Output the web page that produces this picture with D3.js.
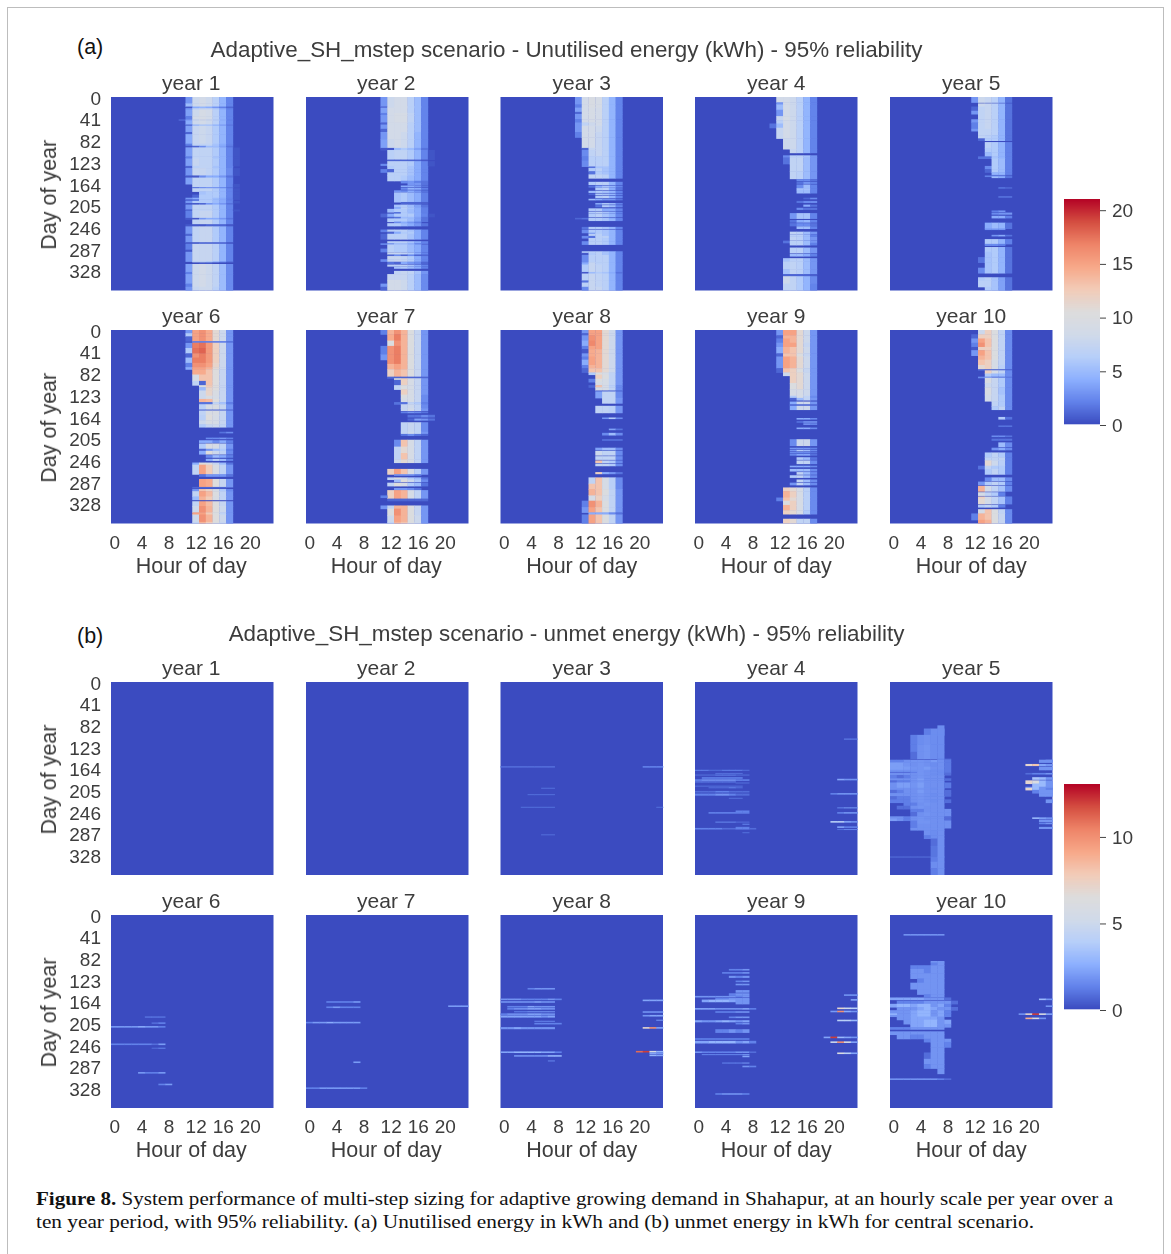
<!DOCTYPE html>
<html>
<head>
<meta charset="utf-8">
<script src="https://cdn.jsdelivr.net/npm/d3@7"></script>
<style>
html,body{margin:0;padding:0;background:#fff}
svg{display:block}
text{font-family:"Liberation Sans",Arial,sans-serif;fill:#3c3c3c}
.cap{font-family:"Liberation Serif",serif;fill:#111}
</style>
</head>
<body>
<svg id="chart" width="1171" height="1254"></svg>
<script>
// Each row: [firstDay, lastDay, firstHour, value at firstHour, value at next hour, ...] (kWh)
const years = ["year 1","year 2","year 3","year 4","year 5","year 6","year 7","year 8","year 9","year 10"];
const hourTicks = [0,4,8,12,16,20];
const dayTicks = [0,41,82,123,164,205,246,287,328];

const a_y1 = [
[0,12,11,3,8,8.5,8,6.5,4.5,2.2],[12,18,11,5,8,8.5,8,6.5,4.5,2.2],[18,21,11,0.5,4,4.5,4,3,2,1],[21,24,11,3,7,7.5,7.5,6,4,2],
[24,36,11,3.5,8,9,8.5,6.5,4.5,2.2],[36,42,11,2,8.5,9,8.5,6.5,4.5,2.2],[42,44,10,1,3,8,8.5,8,6.5,4.5,2.2],[44,52,11,4,8,8.5,8,6.5,4.5,2.2],
[52,54,11,0.5,4,5,5,4,3,1.5],[54,66,11,3.5,7.5,8,7.5,6,4.5,2.2],[66,70,11,1,7.5,8,7.5,6,4.5,2.2],[70,88,11,4,7.5,8,7.5,6,4.5,2.2],
[88,92,11,2,7,7,7,5.5,4,2],[92,95,11,0.5,1,2.5,5,5,3.5,1.5],[95,112,11,3.5,7,7,7,6,4.5,2.2,0.3],[112,116,11,2,7,7,7,5.5,4.5,2.2,0.3],
[116,130,11,3.5,7.5,7,7,6,4.5,2.2,0.3],[130,134,11,1,6.5,7,7,5.5,4.5,2.2],[134,148,11,3,7.5,7.5,7,6,4.5,2.5,0.3],[148,152,11,0.5,0.5,2.5,4,4,3,1.5],
[152,164,11,3.5,7,7,7,6,4.5,2.2],[164,170,12,7,7,7,6,4.5,2.2,0.3],[170,172,12,1.5,2.5,3,3,2.5,1.5],[172,178,12,7,7,7,6,4.5,2.2,0.3],
[178,184,13,5.5,6,6,4.5,2.2,0.3],[184,190,12,1,6,6,6,4.5,2.2,0.3],[190,193,11,3,4,6,6,5,4,2,0.3],[193,196,11,1,1.5,6,6,5,4,2],
[196,200,11,3,6,6,6,5,4,2.2,0.3],[200,203,11,0.5,0.5,1,3,4,3,1.5],[203,212,11,3,7,7,7,6,4.5,2.2],[212,215,11,1,7,7,7,6,4.5,2.2,0.3],
[215,228,11,2,7,7.5,7.5,6,4.5,2.2],[228,231,11,0.5,0.5,3,4,4,3,1.5],[231,240,12,7,7.5,7.5,6,4.5,2.2],[240,244,11,0.5,0.5,0.5,1,1,1,0.5],
[244,258,11,3,7,7.5,7.5,6,4.5,2.2],[258,262,11,1,7,7.5,7.5,6,4.5,2.2],[262,274,11,3,7,7.5,7.5,6,4.5,2.2],[274,277,11,0.5,0.5,1,1,1,1,0.5],
[277,288,11,2,7.5,7.5,7.5,6.5,4.5,2.2],[288,292,11,0.5,7.5,7.5,7.5,6.5,4.5,2.2],[292,310,11,3,7.5,7.5,7.5,6.5,4.5,2.2],[310,312,12,7,7,6,4.5,3,1.5],
[312,315,11,0,0,0.5,0.5,0,0,0],[315,330,11,3.5,8,8.5,8,7,5,2.5],[330,334,11,2,8,8.5,8,7,5,2.5],[334,352,11,3.5,8,8.5,8,7,5,2.5],[352,358,11,2,8,8.5,8,7,5,2.5],[358,365,11,3,7.5,8,8,6.5,5,2.5]];

const a_y2 = [
[0,18,11,3,8,8.5,8.5,6.5,5,2.2],[18,20,11,0.5,8,8.5,8.5,6.5,5,2.2],[20,30,11,3.5,8.5,8.5,8.5,6.5,5,2.2],[30,34,11,2,8.5,9,9,7,5,2.2],[34,48,11,3,8.5,9,9,7,5,2.2],
[48,52,11,1,8.5,8.5,8.5,6.5,5,2.2],[52,60,11,3,8.5,8.5,8.5,6.5,5,2.2],[60,66,11,1,8.5,8.5,8.5,6.5,5,2.2],[66,80,11,3,8.5,8.5,8,6.5,4.5,2.2],[80,96,11,3.5,8,8.5,8,6.5,4.5,2.2],
[96,100,11,0.5,0.5,5,6,5,3.5,1.5],[100,118,12,6.5,7,7,6,4.5,2.2,0.3],[118,121,12,1,1,1,1,1,0.5],[121,130,12,6.5,6.5,6.5,6,4,2.2,0.3],[126,129,11,2.5,6.5],[130,136,12,6,6.5,6.5,5.5,4,2.2],
[136,142,11,2,1,6.5,6.5,5.5,4,2.2],[142,148,12,6.5,6.5,6.5,5.5,4,2.2],[148,158,12,6.5,6.5,6,5,4,2.2],[158,162,14,2.5,3,2,1.5],[162,166,15,3,3,1.5],[167,169,14,4,4,3,1.5],
[171,174,14,2.5,4.5,4,2],[176,179,13,3,2.5,4,3,1.5],[180,198,13,5.5,6,5,4,2],[198,202,14,1,1,1,0.7],[203,208,13,5.5,6,5,3.5,1.5],[208,211,13,4,6.5,5.5,4,2],
[211,217,12,5,6,6,5,4,2],[217,220,13,1.5,6,5,4,2],[220,226,11,1,4,6,6,6,4,2.2,0.3],[226,229,12,1,1.5,5,5,3.5,1.5],[229,235,12,6,6,6,5,3.5,1.5],[235,238,13,2.5,4,3,2],
[238,243,12,6,6,5,4,3,1.5],[250,254,11,2,6.5,6.5,6.5,5.5,4,2.2],[254,258,12,1,4,6,6,4,2.2],[258,268,11,1,6.5,6.5,6.5,5.5,4,2.2],[272,276,12,6.5,6.5,6.5,5.5,4,2.2],[276,278,11,2.5,2.5,5,5,4,2],
[278,286,12,6.5,6,6,5,4,2.2],[286,292,11,2,6.5,6,6,5,4,2.2],[293,297,12,7.5,7.5,7,6,4,2.2],[297,299,12,1,2.5,1,2.5,1,1],[300,306,12,7.5,7.5,7,6,4,2.2],[306,310,11,2.5,7,7.5,7,6,4,2.2],
[311,314,12,1.5,1,4,3,2.5,1],[316,319,12,6.5,6.5,6.5,5.5,4,2.2],[320,323,13,5.5,6,5,4,2],[328,334,13,7,7.5,7,5.5,3],[334,345,12,7.5,7.5,7.5,6.5,5,2.5],[345,352,12,8.5,8.5,8,6.5,5,2.5],[352,358,11,3,8.5,8.5,8,6.5,5,2.5],[358,365,11,1,8.5,8.5,8,6.5,5,2.5]];

const a_y3 = [
[0,14,11,3,8.5,9.5,9,6.5,4.5,2.2],[14,20,11,2,8.5,9.5,9,6.5,4.5,2.2],[20,28,11,3.5,8.5,9,8.5,6.5,4.5,2.2],[28,32,11,1,8.5,9,8.5,6.5,4.5,2.2],[32,42,11,3,8.5,9,8.5,6.5,4.5,2.2],[42,48,11,2,8.5,9,8.5,6.5,4.5,2.2],
[48,54,11,3,7,8,8.5,6.5,4.5,2.2],[54,66,11,3,8.5,8.5,8,6.5,4.5,2.2],[66,76,11,2,8.5,8.5,7.5,6.5,4.5,2.2],[76,96,12,8.5,8.5,7.5,6.5,4.5,2.2],[96,100,12,1,7.5,7.5,6.5,4.5,2.2],[100,112,12,2.5,7,7.5,6.5,4.5,2.2],[112,120,12,2,6.5,6.5,6.5,4.5,2.2],
[120,131,12,2.5,6.5,6.5,6.5,4.5,2.2],[131,134,13,1.5,5.5,5.5,4.5,2.2],[134,140,13,6,6.5,5.5,4.5,2.2],[140,146,13,1.5,6,5.5,4.5,2.2],[146,153,13,7,7,6.5,4.5,2.2],[160,165,13,6,6.5,6.5,4.5,2.2],[167,170,13,1.5,4,5.5,4.5,2.2],
[171,175,14,6,6.5,4,1.5],[177,180,13,5,6,5.5,4.5,2.2],[182,184,13,1,6,5.5,4.5,2.2],[186,190,14,6,6.5,4.5,2.2],[192,194,13,5,4,3,3,1.5],[200,202,14,4,6,5,2.2],[204,207,14,1.5,6,5,2.2],[210,214,13,6,6,4,4,2.2],
[216,219,13,6,6.5,5.5,4.5,2.2],[220,226,13,6,6.5,5.5,4.5,2.2],[228,230,11,1,1.5,6,6,5.5,4,2.2],[230,233,13,6,6,5.5,4.5,2.2],[245,248,12,1.5,6,6,5.5,4.5,2.2],[250,256,12,2.5,6,6,5.5,4.5,2.2],[256,258,13,3,6,5.5,4.5,2.2],
[258,262,13,6.5,6.5,5.5,4.5,2.2],[262,266,12,2.5,1.5,6.5,6.5,4.5,2.2],[266,272,13,6.5,6.5,6,4.5,2.2],[272,278,12,2.5,6.5,6.5,6,4.5,2.2],[291,294,12,6,6.5,6.5,5.5,4.5,2.2],[294,298,12,0.5,6,6.5,5.5,4.5,2.2],[298,312,12,2.5,6.5,6.5,6.5,4.5,2.2],[312,316,12,4,7.5,6.5,6.5,4.5,2.2],
[316,330,12,6,7.5,7,6.5,4.5,2.2],[330,333,12,0.5,5,6,5.5,4,1.5],[333,346,12,6.5,7.5,7,6.5,4.5,2.2],[346,350,12,1.5,7.5,7,6.5,4.5,2.2],[350,358,12,6.5,7.5,7,6.5,4.5,2.2],[358,365,12,2.5,7.5,7.5,6.5,4.5,2.2]];

const a_y4 = [
[0,10,12,8.5,8.5,8,6.5,4.5,2.2],[10,14,12,3,8.5,8,6.5,4.5,2.2],[14,24,12,5,8.5,8,6.5,4.5,2.2],[24,36,12,3,8.5,8,6.5,4.5,2.2],[36,44,12,7.5,9,8,6.5,4.5,2.2],[44,50,12,6.5,8.5,8,6.5,4.5,2.2],[50,58,11,1.5,5,8.5,8,6.5,4.5,2.2],
[58,78,12,7.5,8.5,8,6.5,4.5,2.2],[78,98,13,8,8,6.5,4.5,2.2],[98,105,14,7.5,6.5,4.5,2.2],[110,114,13,2.5,6.5,6.5,5.5,3],[114,126,13,1.5,7,7,5,3],[126,140,14,7,7,5,3],[140,154,14,7,6.5,5,3],
[155,158,15,2.5,2.5,1.5],[160,163,15,1.5,3,2],[165,172,15,2.5,5,2.2],[172,175,15,5.5,5.5,2.2],[175,181,15,5,5,2.2],[190,192,16,1,2.5],[196,199,15,1.5,2.5,2.5],[203,206,16,4,1.5],[209,212,15,2.5,1.5,1.5],
[219,229,14,3,5.5,5.5,2.2],[232,236,14,1.5,4,4.5,2.2],[238,243,14,1.5,2.5,2.5,1.5],[244,248,15,5,5,2.2],[254,258,14,7,6.5,5,3],[259,263,14,6.5,6.5,5,2],[264,270,14,7,6.5,5,3],[271,275,13,1.5,6.5,6.5,5,3],[275,279,14,6.5,6.5,5,2],
[284,294,14,6.5,6.5,5,3],[296,300,14,5,5,4,2],[304,310,13,5.5,6.5,6.5,5,3],[310,325,13,6.5,7,6.5,5,3],[325,334,13,5.5,7,6.5,5,3],[334,338,13,1,1,1,1,0.7],[338,352,13,8,7,6,4.5,2.5],[352,365,13,7,7,6,4.5,2.2]];

const a_y5 = [
[0,10,12,3,8,7.5,6.5,4.5,1.5],[12,18,13,8,7.5,6.5,4.5,1.5],[18,26,12,1,7,7.5,6.5,4.5,1.5],[26,32,12,3,7,7.5,6.5,4.5,1.5],[32,42,13,7,7.5,6.5,4.5,1.5],[42,48,12,3,7,7.5,6.5,4.5,1.5],[48,60,12,2,7,7.5,6.5,4.5,1.5],[60,64,12,3,7,7,6.5,4.5,1.5],
[64,72,13,7,7,6.5,4.5,1.5],[72,78,13,7,6.5,6,4.5,1.5],[78,82,13,1,6,6,4.5,1.5],[85,96,14,6.5,6,4.5,2],[96,104,14,6,6,4.5,2],[104,112,14,5,6,4.5,2],[112,116,13,1.5,1.5,5.5,4.5,2],[116,130,15,6,5,2],[130,136,14,2.5,6,5,2],
[136,142,14,1,6,5,2],[142,146,15,4.5,4.5,2],[148,150,14,2,3,3,1.5],[150,152,15,5,4,1.5],[170,172,16,1.5,1],[187,189,16,1.5,1.5],[214,216,15,2,3],[218,221,15,2.5,3,3],[224,228,15,4,4,2],
[237,248,14,4,5,4.5,1.5],[248,250,14,3,3,3],[260,262,15,3,4,1.5],[268,277,14,6,6,4.5,2],[277,280,14,2.5,2.5,2],[283,292,14,6,6,4.5,1.5],[292,302,14,5.5,6,4.5,1.5],[302,312,13,1.5,5.5,6,4.5,1.5],[312,322,14,5.5,6,4.5,1.5],[322,332,13,2.5,5.5,6,4.5,1.5],
[340,346,13,6,6.5,5.5,3.5,1.5],[346,358,13,6.5,6.5,5.5,3.5,1.5],[358,364,14,6,5.5,3.5,1.5]];

const a_y6 = [
[0,6,11,3,15,16,14.5,11,8,3],[6,12,11,6,15,16,14.5,11,8,3],[12,21,11,1,15,16,14.5,11,8,3],[21,24,12,2,2,2,2,2,1.5],[24,34,11,3,17,17.5,15.5,12,8,3],[34,44,11,6,17.5,18,15.5,12,8,3],[44,52,11,1,16,17,15.5,12,8,3],[52,62,11,5,17,17,15.5,12,8,3],
[62,70,11,2,16,16,15,11.5,8,3],[70,74,11,4,15,15,14,11,8,3],[74,84,12,14.5,14.5,13,10.5,7.5,3],[84,96,12,9,13,13,10.5,7.5,3],[96,104,12,7,1,13,10.5,7.5,3],[104,108,13,10,12.5,10.5,7.5,3],[108,114,13,5,11.5,10.5,7.5,3],[114,124,13,8,11.5,9.5,7.5,3],
[124,130,13,8,9.5,9,7.5,3],[130,136,13,14,13.5,10.5,7.5,3],[136,140,13,1.5,1.5,7,5.5,2],[140,150,13,6.5,9,9.5,7.5,3],[150,152,13,1,1,1,1,1],[152,160,13,7,9.5,9.5,7.5,3],[160,170,13,6.5,10.5,9,7.5,3],[170,178,13,8,9.5,9,7.5,3],[178,183,13,6,7.5,8,7,3],[192,194,16,1.5,2.5],
[203,205,14,2.5,2.5,3,2],[208,212,13,4,4,2.5,4,2],[214,224,13,6,9.5,9,7,3],[224,228,13,1,3,5,6,2],[228,234,13,4,10.5,8,7,2.5],[236,240,14,2.5,5,4,2],[243,246,14,4,6.5,5,2],[250,254,12,4,10.5,9.5,7.5,5,1.5],
[254,272,12,7,15,12.5,9.5,7,3],[272,276,13,1.5,3,3,3,1.5],[281,296,13,15,14.5,10.5,7.5,3],[296,298,12,1,1,1,1,1],[300,304,12,3,13,11.5,9,6,2.5],[304,314,12,7,15,13.5,10,7,3],[314,320,12,5,14,12.5,9.5,7,3],[323,332,12,7,15,13.5,10.5,7.5,3],
[332,344,12,8,16,14,10.5,8,3],[344,348,12,15,15,12.5,10,7,3],[348,362,12,8,16,14,10.5,8,3],[362,365,12,7,14,12.5,10,7.5,3]];

const a_y7 = [
[0,8,11,2,14,16,14,10,7.5,3],[8,20,12,14.5,17,14,10,7.5,3],[20,30,12,10,16,14,10,7.5,3],[30,46,11,2,16,17,14,10,7.5,3],[46,56,11,3,16,17,14,10,7.5,3],[56,64,12,16,17,14,10,7.5,3],[64,74,12,14,15,14,10,7.5,3],[74,88,12,12,14,13,10,7.5,3],
[88,91,12,1,1,1,1,1,1],[91,94,13,10,12,9,7.5,3],[94,104,13,1,12,9,7.5,3],[104,112,13,7,10,9,7.5,3],[112,122,14,12,9,7.5,3],[122,128,14,10,9,7.5,2.5],[128,136,14,9,9,7.5,2.5],[136,140,13,1.5,1.5,7,6,2],[140,148,14,7.5,8,7,2.5],
[148,152,14,7.5,8.5,7,3],[154,156,14,2,3,2.5,1.5],[160,164,15,1.5,1.5,2.5,1.5],[167,170,15,1,3.5,3,1.5],[174,192,14,7,7.5,7,2.5],[192,196,14,7,8,7,3],[196,199,14,1.5,2.5,1.5,1],[207,220,13,2.5,13,9,7,3],[220,232,13,7,11,9,7,3],[232,244,13,7,13,9,7,3],
[244,250,13,8,11,9,7,3],[262,272,12,12,15,13,9,6.5,3],[272,274,13,3,3,3,2],[278,282,12,7,9.5,8,6,5,1.5],[282,286,13,5,10.5,8,6,2.5],[288,294,12,7,10.5,9,6,5,1.5],[298,302,13,3,3,2.5,1.5],[302,318,12,12,15,14,9,7,3],[312,316,11,2],[318,322,12,1,1,1,1,1,1],
[331,337,11,3,7,14,14,10,7.5,3],[337,350,12,10,16,14,10,7.5,3],[350,362,12,8,15,14,10,8,3],[362,365,12,7,14,13,10,8,3]];

const a_y8 = [
[0,6,12,3,15,15,11,8,3],[6,10,12,1,15,15,11,8,3],[10,20,12,3,16,15,11,8,3],[20,30,12,4,16.5,15,11,8,3],[30,36,12,2,15,15,11,8,3],[36,44,12,0.5,14.5,14,11,8,3],[44,50,12,3,14.5,14,11,8,3],[50,56,12,2,15,14,11,8,3],
[56,66,12,4,15,14,11,8,3],[66,72,12,2,14,14,11,8,3],[72,80,12,1,13,13,11,8,3],[80,84,13,6,10,9,7,3],[84,92,14,12,10,7,3],[92,98,13,2,10,9,7,3],[98,104,14,9,9,7,3],[104,108,13,1,13,9,6.5,2.5],[108,114,14,9,9,7,2.5],[114,116,14,1,1,1,1],
[116,128,14,3.5,7,7,2.5],[128,138,15,7,7,3],[143,156,14,7,7,6.5,3],[165,167,15,3,6,2.5],[186,188,16,3.5,1.5],[194,198,15,2.5,5,2.5],[206,208,15,1.5,1.5,1.5],[222,226,14,3.5,5,5,2.5],[228,236,14,8,7,7,2.5],[238,244,14,7,7,7,2.5],[246,250,14,13,7,6,2.5],[252,256,14,7,7,6,2.5],
[268,271,14,12,4,3,1.5],[278,290,13,7,13,9,6.5,2.5],[290,300,13,13,13,9,6.5,2.5],[300,312,13,14,13,10,7,3],[312,322,13,9,12,9,7,3],[322,334,12,2,16,14,10,7,3],[334,344,12,3,15,13,10,7,3],[344,348,13,4,4,4,2.5,1.5],[348,365,12,2,15,13,10,7,3]];

const a_y9 = [
[0,10,12,3,15,15,11,8,3],[10,16,12,1,14,14,11,8,3],[16,24,12,2,15,14,11,8,3],[24,32,12,3,15,15,11,7.5,3],[32,44,12,4,14,13,11,8,3],[44,50,12,1,13,13,10,7.5,3],[50,62,12,3,15,14,11,8,3],[62,72,12,3,15,14,11,8,3],[72,80,12,1,13,12,10,7.5,3],
[80,86,13,8,12,11,8,3],[86,100,14,12,11,8,3],[100,112,14,10,11,8,3],[112,124,14,9,9,8,3],[124,128,14,6,9,7,2.5],[128,132,14,1,5,7,3],[135,150,14,4,8,8,3],[140,142,14,1,1,1,1],[166,168,15,4,4,2.5],[172,174,15,1.5,3,3],[176,178,16,3,2.5],
[184,186,15,4,4,2.5],[206,218,14,2.5,8,8,3],[222,224,14,3,3,3,2],[226,228,14,3,6,5,2.5],[230,232,14,2.5,2.5,2.5,1.5],[234,236,14,2.5,4,4,1.5],[240,244,15,6,5,1.5],[246,252,15,7,7,2.5],[256,258,14,4,4,4,2.5],[262,266,14,5,5,5,2.5],[268,272,15,7,5,2.5],
[274,278,14,6,7,5,2.5],[282,286,15,7,5,2.5],[288,292,14,3,7,5,2.5],[297,304,13,12,11,9,6.5,2.5],[304,316,13,14,12,9,6.5,2.5],[316,322,12,2,13,11,9,6.5,2.5],[322,330,13,10,12,9,6.5,2.5],[330,340,13,14,12,9,6.5,2.5],[340,347,13,12,11,9,6,2.5],[356,365,13,12,11,7,7,2.5]];

const a_y10 = [
[0,8,13,8,12,10,7,2.5],[8,16,12,1,12,12,10,7,2.5],[16,24,12,3,15,13,10,7,2.5],[24,32,12,2,16,13,10,7,2.5],[32,38,12,0.5,12,12,10,7,2.5],[38,48,12,3,15,13,10,7,2.5],[48,56,13,14,13,10,7,2.5],[56,66,13,13,12,9,7,2.5],[66,74,13,11,12,9,6.5,2.5],
[74,76,13,1,1,1,1,1],[76,82,14,12,9,7,2.5],[82,88,14,6,5,5,2.5],[88,90,13,2.5,2.5,1.5,1.5,1.5],[90,100,14,9.5,7.5,6,2.5],[100,108,14,8,7.5,6,2.5],[108,122,14,9.5,7.5,5.5,2.5],[122,134,14,8.5,7.5,6,2.5],[134,144,15,7,6,2.5],[144,150,15,6,7,2.5],
[164,168,16,6,1.5],[180,182,16,1.5,1.5],[199,201,15,2.5,2.5,1.5],[205,208,15,1.5,1.5,1.5],[212,220,16,5,2.5],[222,226,15,3,4,2.5],[231,240,14,6,7,6,2],[240,246,14,7,7,7,2],[246,256,14,11,8,6.5,2],[256,262,13,1.5,7,6,6,2],[262,272,14,6,7,6,2],
[278,284,14,2.5,5,5,2.5],[286,292,13,3,6,7,6,2],[294,304,13,14,8.5,7,5.5,2.5],[306,312,13,9,7,6,2],[314,318,13,12,8.5,7,5.5,2],[318,328,13,11,8.5,7,5.5,2],[330,334,13,6,7,6,2],[338,346,13,9,13,10,7,2.5],[346,358,12,2,14,13,10,7.5,2.5],[358,365,13,15,14,10,7.5,2.5]];

const b_y1 = [];
const b_y2 = [];
const b_y3 = [
[159,161,0,0.8,0.8,0.8,0.8,0.8,0.8,0.8,0.8],[159,161,21,1.3,1.3,1.3],[200,201,6,0.8,0.8],[212,213,4,0.8,0.8,0.8,0.8],[236,237,3,0.8,0.8,0.8,0.8,0.8],[236,237,23,0.8],[288,289,6,0.8,0.8]];
const b_y4 = [
[107,108,22,1.3,1.3],[166,167,0,1.3,1.3,0.8,0.8,1.3,1.3,1.3,0.8],[172,173,3,0.8,0.8,0.8,0.8],[175,176,0,0.8,0.8,0.8,1.3,1.3,1.3,0.8,0.8],[180,182,1,1.3,1.3,1.3,1.3,1.3,1.3],[184,186,0,1.3,1.8,1.8,1.8,1.8,1.8,1.3,1.3],[188,189,0,1.3,1.3,1.3,1.3,1.3,1.3],[190,191,6,0.8,0.8],[196,197,0,0.8,0.8,0.8,0.8,0.8,0.8,0.8],
[199,200,2,0.8,0.8,0.8,1.3,0.8],[206,208,0,0.8,0.8,0.8,1.3,1.3,0.8,0.8,0.8],[211,214,0,1.3,1.3,1.3,1.8,1.8,1.3,0.8,0.8],[219,220,5,0.8,0.8],[243,245,6,1.3,1.3],[246,248,2,1.3,1.3,1.3,1.3,1.3,1.3],[264,265,3,1.3,1.3,1.3,0.8,0.8],[268,269,7,1.3],[276,278,0,1.3,1.3,1.3,1.3,0.8,0.8,1.3,1.3,0.8],[274,275,6,1.3,1.3],[284,285,7,0.8],
[183,185,21,2.3,1.8,1.8],[210,212,20,1.3,1.8,1.8,1.8],[237,238,21,1.3,1.8,1.8],[246,248,21,1.3,1.8,1.8],[263,265,20,4,4,2.3,1.8],[273,275,21,2.3,1.3,1.3],[278,279,21,0.8,1.3,1.3]];
const b_y5 = [
[82,100,7,1.6],[88,92,5,1.2,1.6,1.6],[92,100,5,1.2,1.6,1.6],[100,118,3,1.2,1.6,1.7,1.6,1.6],[118,132,3,1.2,1.7,1.8,1.6,1.6],[132,145,3,0.8,1.7,1.8,1.6,1.6],[145,147,7,1.3,0.8],
[147,152,0,1.3,1.3,1.7,1.8,1.8,1.7,2,1.7,1.1],[152,160,0,2.1,2.1,1.8,1.7,1.8,1.7,1.6,1.7,1.1],[160,166,0,2.1,2.1,2,1.8,1.8,2,1.7,1.7,1.1],[166,170,0,1.7,1.7,1.7,1.7,1.8,1.7,1.6,1.6,1.1],[170,172,0,0.8,0.8,0.8,1.2,1.8,1.7,1.7,1.6,1],[172,176,0,1.7,1.7,1.7,1.7,1.8,1.7,1.6,1.6,0.8],[176,182,0,1.2,0.8,1.2,1.7,1.8,1.7,1.7,1.7],[182,186,0,1.7,1.7,1.7,1.8,2.1,1.7,1.7,1.7,0.8],
[186,190,0,0.8,1.2,1.2,1.7,1.8,1.7,1.7,1.7],[190,200,0,1.7,2.1,2.1,1.8,2.1,1.7,1.7,1.7,1.1],[200,204,0,1.7,1.7,1.7,1.7,1.8,1.7,1.6,1.7],[204,210,0,0.8,1.2,1.7,1.7,2,1.7,1.7,1.7,0.8],[210,216,0,1.7,1.7,1.7,1.7,1.8,1.7,1.6,1.7,0.8],[216,222,0,0.8,1.2,1.2,1.7,1.8,1.7,1.7,1.7],[222,228,0,1.2,1.2,1.2,1.7,1.8,1.7,1.6,1.7,0.8],[228,234,2,1.2,1.2,1.7,1.8,1.7,1.7],[234,240,1,0.8,0.8,1.7,1.8,1.7,1.7,1.7],
[240,246,3,1.2,1.2,1.7,1.7,1.7,1.7],[246,254,3,0.8,1.7,1.8,1.7,1.7,1.7],[254,258,0,1.7,1.7,1.2,1.7,1.8,1.7,1.7,1.7,0.8],[258,262,0,2.1,1.7,1.2,1.7,1.8,1.7,1.7,1.7,0.8],[262,268,3,1.2,1.8,1.8,1.7,1.7,1.7],[268,276,3,1.2,1.7,1.7,1.7,1.7,1.7],[276,280,3,1.7,1.7,1.7,1.7,1.7],[280,290,5,1.7,1.6,1.7],[290,296,5,1.2,1.6,1.7],[296,310,6,0.8,1.7],[330,331,0,0.8,0.8,0.8,0.8,0.8,0.8,0.8,1.7],[310,330,6,1,1.7],[331,340,6,1.2,1.7],[340,352,6,1.6,1.7],[352,365,6,1.2,1.7],
[147,150,23,1.7],[147,152,22,1.7,1.7],[155,158,20,7,8,2.3,1.8],[160,166,22,1.8,1.8],[172,174,20,0.8,1.3,1.3,1.8],[180,184,21,3.5,3,1.8],[186,192,20,7,6,3,1.8],[192,198,21,3,3,1.8],[198,200,20,1.8,3,1.8,1.8],[200,204,20,7,3,1.8,1.3],[204,210,21,1.3,1.8,1.8],[210,216,22,1.8,1.8],[222,228,23,1.8],[256,258,21,3,2.3,1.8],[260,264,22,1.8,1.8],[266,268,22,1.3,1.8],[274,277,22,1.8,1.8]];
const b_y6 = [[192,193,5,1.3,1.3,1.3],[203,205,6,0.8,1.3],[210,212,0,2,2,2,2,2.5,2,2,1.3],[243,245,0,1.3,1.3,1.3,1.3,1.3,1.3,0.8,2],[251,252,6,0.8,1.3],[297,299,4,2,1.3,1.3,2],[319,321,7,1.3,2]];
const b_y7 = [
[163,165,3,1.3,1.3,1.3,1.3,2],[171,173,21,2,2,2],[173,175,3,1.3,2,1.3,1.3,1.3],[202,204,0,1.3,2,2,2.5,2,2,2,2],[277,279,7,2],[326,328,0,1.3,1.3,2,2,2,2,2,2,1.3]];
const b_y8 = [
[138,140,4,1.3,1.8,1.8,1.8],[158,160,0,1.8,1.8,1.8,1.3,1.3,1.3,1.3,1.8,1.3],[163,165,0,1.8,1.8,1.8,1.8,1.8,2.3,1.8,1.8],[172,174,1,1.3,1.3,1.3,2.3,1.8,1.8,1.8],[176,178,1,1.3,1.8,1.8,2.3,2.3,1.8,1.8],[182,183,2,1.3,1.3,1.8,1.8,1.8,1.8],[186,188,0,1.3,1.8,1.8,1.8,2.3,2.3,1.8,1.8],[190,193,0,2.3,2.3,2.3,2.3,2.3,2.3,1.8,2.3],
[200,201,5,1.3,1.3,1.3],[204,206,5,1.3,1.3,1.3,1.3],[212,215,0,1.8,1.8,2.3,1.8,1.8,1.8,1.8,1.8],[258,260,0,2.3,2.3,2.8,2.8,2.8,2.8,2.3,2.3,1.3],[265,267,2,1.8,1.8,1.8,1.8,1.8,2.8,2.8],[275,276,7,1.3],
[160,162,21,2.3,2.3,2.3],[182,184,21,1.8,1.8,1.8],[189,191,21,1.8,2.3,2.3],[198,199,23,1.8],[212,214,21,7,10,2.3],[257,259,20,11,12,6,2.8],[260,262,22,2.3,1.8],[264,266,22,2.8,2.3]];
const b_y9 = [
[102,104,5,1.3,1.3,1.8],[108,110,4,1.3,1.3,1.3,1.8],[115,118,5,1.8,1.3,1.8],[124,126,6,1.3,1.8],[130,132,6,1.8,1.8],[142,146,6,1.8,1.8],[148,152,5,1.3,1.8,1.8],
[153,155,0,1.8,1.8,1.8,1.8,1.8,1.8,1.3,1.8],[157,160,3,1.3,1.3,1.8,1.8,1.8],[160,164,1,2.3,2.8,2.8,2.8,2.3,1.8,1.8],[164,168,6,1.8,1.8],[176,178,0,2.3,2.3,2.3,1.8,1.8,1.8,1.8,2.3,1.3],[182,184,3,1.3,1.3,1.3,1.8,1.8],[192,194,5,1.3,1.8,1.8],[199,202,0,2.3,1.8,1.8,2.3,2.8,2.3,1.8,2.3],[204,206,6,1.3,1.8],[216,222,3,1.3,1.3,1.8,1.3,1.8],
[233,235,0,1.3,1.3,1.3,1.3,1.3,1.3,1.3,1.3],[238,242,0,2.3,2.3,2.8,2.8,2.8,2.8,1.8,2.3,1.3],[258,260,0,1.8,1.3,1.3,1.3,1.3,1.3,1.8,1.8,0.8],[263,264,1,1.3,1.3,1.3,1.3,1.3,1.3,1.8],[266,268,7,2.3],[279,280,4,1.3,1.3,1.3,1.8],[285,287,7,1.8,1.3],[337,339,3,1.3,1.8,1.8,1.8,1.3],
[150,152,22,1.8,1.8],[159,161,23,2.3],[175,177,21,7,5,4],[181,183,20,2,10,2.5,1.8],[198,200,21,4,4,3],[230,232,19,2.3,12,3,2.3,1.8],[239,241,20,5,10,6,2.3],[260,262,21,6,4,2.3]];
const b_y10 = [
[36,38,2,1.8,1.8,1.8,1.8,1.8,1.8],[87,90,6,1.8,1.8],[90,95,6,1.3,1.8],[95,102,3,1.3,1.3,1.3,1.8,1.8],[102,110,3,1.8,1.8,1.3,1.8,1.8],[110,120,3,1.8,1.8,1.8,1.8,1.8],[120,128,4,1.3,1.8,1.8,1.8],[128,140,3,1.8,1.8,1.8,1.8,1.8],[140,150,4,1.8,1.8,1.8,1.8],[150,155,5,1.3,1.8,1.8],
[156,160,0,2.3,2.3,2.3,2.3,2.3,1.8,1.8,1.8,0.8],[162,168,1,1.3,1.3,1.3,1.3,1.8,1.8,1.8,1.8,0.8],[168,174,0,2.3,2.8,2.8,2.3,2.8,2.8,1.8,2.3,1.3],[174,180,1,1.8,1.8,1.8,2.3,2.8,2.3,1.8,1.8,0.8],[180,186,0,1.8,1.8,1.8,2.3,2.8,2.8,1.8,2.3,1.3],[186,192,0,1.8,1.8,1.8,2.3,2.8,2.8,1.8,2.3,1.3],[192,198,1,1.8,1.8,2.3,2.3,2.3,2.3,1.8],[198,206,2,1.8,2.3,2.3,2.8,2.8,1.8,2.3],[206,212,3,2.3,2.3,2.8,2.8,1.8,1.8],
[212,216,0,1.3,1.3,1.3,1.8,1.8,1.8,1.8,1.8],[220,226,0,1.8,1.8,1.8,1.8,1.8,1.8,1.8,1.8],[226,234,1,1.8,1.8,1.3,1.3,1.8,1.8,1.8],[234,240,5,1.3,1.8,1.8,1.8],[240,250,6,1.8,1.8,1.3],[250,260,6,1.8,1.8],[260,272,5,0.8,1.8,1.8],[272,282,5,1.8,1.8,1.8],[282,290,5,1.3,1.8,1.8],[290,300,7,1.8],[309,311,0,1.8,1.8,1.8,1.8,1.8,1.8,1.8,1.3,0.8],
[158,160,22,3,1.8],[171,173,23,1.8],[186,188,19,1.8,7,12,6,2.3,2.8],[194,196,20,9,6,1.8]];

const panelsA = [a_y1,a_y2,a_y3,a_y4,a_y5,a_y6,a_y7,a_y8,a_y9,a_y10];
const panelsB = [b_y1,b_y2,b_y3,b_y4,b_y5,b_y6,b_y7,b_y8,b_y9,b_y10];
const coolwarm = ["#3b4cc0","#6282ea","#8db0fe","#b7cff9","#d1dae9","#dddcdc","#f2cbb7","#f7a889","#ee8468","#d44e41","#b40426"];

const svg = d3.select("#chart");
const defs = svg.append("defs");
defs.append("filter").attr("id","soft").attr("x","-2%").attr("y","-2%").attr("width","104%").attr("height","104%")
  .append("feGaussianBlur").attr("stdDeviation","0.7 0.32");
defs.append("filter").attr("id","softText").append("feGaussianBlur").attr("stdDeviation","0.3");

svg.append("rect").attr("x",7.5).attr("y",7.5).attr("width",1156).attr("height",1260).attr("fill","none").attr("stroke","#bdbdbd");

const colLeft = [111,306,500.5,695,890], colW = 162.5;
const hours = d3.range(24), days = d3.range(365);
const x = d3.scaleBand().domain(hours).range([0,colW]);

function colourScale(max){
  return d3.scaleLinear().domain(coolwarm.map((_,i)=>i/10*max)).range(coolwarm).interpolate(d3.interpolateRgb).clamp(true);
}

function drawBlock(panels, tops, h, max, cbTop, cbH, cbTicks, title, titleY, tag, tagY){
  const colour = colourScale(max);
  const y = d3.scaleBand().domain(days).range([0,h]);
  svg.append("text").attr("x",566.5).attr("y",titleY).attr("text-anchor","middle").attr("font-size",22.4).attr("filter","url(#softText)").text(title);
  svg.append("text").attr("x",77).attr("y",tagY).attr("font-size",21.5).style("fill","#111").text(tag);
  panels.forEach((rows,i)=>{
    const r = Math.floor(i/5), c = i%5;
    const g = svg.append("g").attr("transform",`translate(${colLeft[c]},${tops[r]})`);
    const cells = rows.flatMap(row=>row.slice(3).map((v,k)=>({d0:row[0],d1:row[1],h:row[2]+k,v})));
    const hm = g.append("g").attr("filter","url(#soft)");
    hm.append("rect").attr("width",colW).attr("height",h).attr("fill",colour(0));
    hm.selectAll("rect.c").data(cells).join("rect").attr("class","c")
      .attr("x",d=>x(d.h)).attr("width",x.bandwidth()+0.3)
      .attr("y",d=>y(d.d0)).attr("height",d=>Math.max(y.bandwidth(),y(Math.min(d.d1,364))+y.bandwidth()-y(d.d0)))
      .attr("fill",d=>colour(d.v));
    g.append("text").attr("x",colW/2-(c<2?1:0)).attr("y",-7).attr("text-anchor","middle").attr("font-size",21).attr("filter","url(#softText)").text(years[i]);
    if(c===0){
      const ya = g.append("g").attr("transform","translate(0,1)").call(d3.axisLeft(y).tickValues(dayTicks).tickSize(0).tickPadding(10));
      ya.select(".domain").remove();
      ya.selectAll("text").attr("font-size",19).attr("font-family","Liberation Sans").attr("filter","url(#softText)");
      g.append("text").attr("transform",`translate(-55,${h/2+1}) rotate(-90)`).attr("text-anchor","middle").attr("font-size",21.5).attr("filter","url(#softText)").text("Day of year");
    }
    if(r===1){
      const xa = g.append("g").attr("transform",`translate(0.5,${h})`).call(d3.axisBottom(x).tickValues(hourTicks).tickSize(0).tickPadding(12));
      xa.select(".domain").remove();
      xa.selectAll("text").attr("font-size",19).attr("font-family","Liberation Sans").attr("filter","url(#softText)");
      g.append("text").attr("x",colW/2-(c<2?1:0)).attr("y",h+49).attr("text-anchor","middle").attr("font-size",21.5).attr("filter","url(#softText)").text("Hour of day");
    }
  });
  // colour bar
  const cb = svg.append("g").attr("transform",`translate(1064,${cbTop})`);
  const cy = d3.scaleLinear().domain([0,max]).range([cbH,0]);
  const steps = d3.range(0,cbH);
  cb.selectAll("rect").data(steps).join("rect").attr("x",0).attr("width",36)
    .attr("y",d=>cbH-d-1).attr("height",1.3).attr("fill",d=>colour(cy.invert(cbH-d-0.5)));
  const ca = cb.append("g").attr("transform","translate(36,1)").call(d3.axisRight(cy).tickValues(cbTicks).tickSize(6).tickPadding(6));
  ca.select(".domain").remove();
  ca.selectAll("line").attr("stroke","#444");
  ca.selectAll("text").attr("font-size",19).attr("font-family","Liberation Sans").attr("filter","url(#softText)");
}

drawBlock(panelsA,[97,330],193.5,20.95,199,225,[0,5,10,15,20],
  "Adaptive_SH_mstep scenario - Unutilised energy (kWh) - 95% reliability",57,"(a)",54);
drawBlock(panelsB,[682,915],193,13,784,225,[0,5,10],
  "Adaptive_SH_mstep scenario - unmet energy (kWh) - 95% reliability",641,"(b)",643);

const cap = svg.append("g").attr("font-size",19.3);
const l1 = cap.append("text").attr("class","cap").attr("x",36).attr("y",1205).attr("textLength",1077).attr("lengthAdjust","spacingAndGlyphs");
l1.append("tspan").attr("font-weight","bold").attr("class","cap").text("Figure 8.");
l1.append("tspan").attr("class","cap").text(" System performance of multi-step sizing for adaptive growing demand in Shahapur, at an hourly scale per year over a");
cap.append("text").attr("class","cap").attr("x",36).attr("y",1228).attr("textLength",998).attr("lengthAdjust","spacingAndGlyphs")
  .text("ten year period, with 95% reliability. (a) Unutilised energy in kWh and (b) unmet energy in kWh for central scenario.");
</script>
</body>
</html>
